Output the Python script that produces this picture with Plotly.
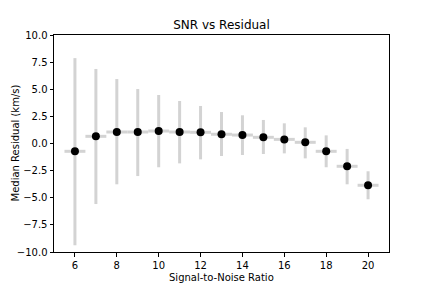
import plotly.graph_objects as go

snr = [6, 7, 8, 9, 10, 11, 12, 13, 14, 15, 16, 17, 18, 19, 20]
median_resid = [-0.72, 0.66, 1.06, 1.06, 1.15, 1.06, 1.03, 0.85, 0.78, 0.57, 0.38, 0.11, -0.72, -2.10, -3.85]
upper = [7.87, 6.87, 5.94, 5.02, 4.47, 3.92, 3.46, 2.90, 2.60, 2.17, 1.86, 1.49, 0.75, -0.50, -2.56]
lower = [-9.38, -5.58, -3.76, -3.00, -2.19, -1.83, -1.46, -1.15, -1.06, -0.97, -0.91, -1.37, -2.19, -3.76, -5.14]
bin_halfwidth = 0.5

err_plus = [u - m for u, m in zip(upper, median_resid)]
err_minus = [m - l for m, l in zip(median_resid, lower)]

font = "DejaVu Sans"
# page has an 8px body margin; figure coordinates are page coordinates minus 8
OFF = 8
W, H = 432 - OFF, 288 - OFF
L, R, T, B = 54 - OFF, 389 - OFF, 35 - OFF, 252 - OFF

fig = go.Figure()
fig.add_trace(go.Scatter(
    x=snr, y=median_resid, mode="markers",
    marker=dict(color="black", size=8),
    error_y=dict(type="data", symmetric=False, array=err_plus, arrayminus=err_minus,
                 color="#d3d3d3", thickness=3, width=0),
    error_x=dict(type="constant", value=bin_halfwidth,
                 color="#d3d3d3", thickness=3, width=0),
    showlegend=False,
))

axis_common = dict(
    showline=True, linecolor="black", linewidth=1, mirror=True,
    ticks="outside", ticklen=3.5, tickwidth=1, tickcolor="black",
    showgrid=False, zeroline=False, automargin=False,
    tickfont=dict(family=font, size=10, color="black"),
)
fig.update_xaxes(range=[5, 21], tickvals=[6, 8, 10, 12, 14, 16, 18, 20], **axis_common)
fig.update_yaxes(range=[-10, 10], tickvals=[-10, -7.5, -5, -2.5, 0, 2.5, 5, 7.5, 10],
                 tickformat=".1f", **axis_common)
fig.update_layout(
    width=W, height=H,
    margin=dict(l=L, r=W - R, t=T, b=H - B, autoexpand=False),
    paper_bgcolor="white", plot_bgcolor="white",
    title=dict(text="SNR vs Residual", x=(L + R) / 2 / W, xanchor="center",
               y=1 - (25 - OFF) / H, yanchor="middle",
               font=dict(family=font, size=12, color="black")),
    font=dict(family=font, color="black"),
    annotations=[
        dict(text="Signal-to-Noise Ratio", xref="paper", yref="paper",
             x=0.5, y=-(277 - OFF - B) / (B - T), xanchor="center", yanchor="middle",
             showarrow=False, font=dict(family=font, size=10, color="black")),
        dict(text="Median Residual (km/s)", xref="paper", yref="paper",
             x=-(L - 7) / (R - L), y=0.5, xanchor="center", yanchor="middle",
             textangle=-90, showarrow=False, font=dict(family=font, size=10, color="black")),
    ],
)
fig.write_html("out.html")
